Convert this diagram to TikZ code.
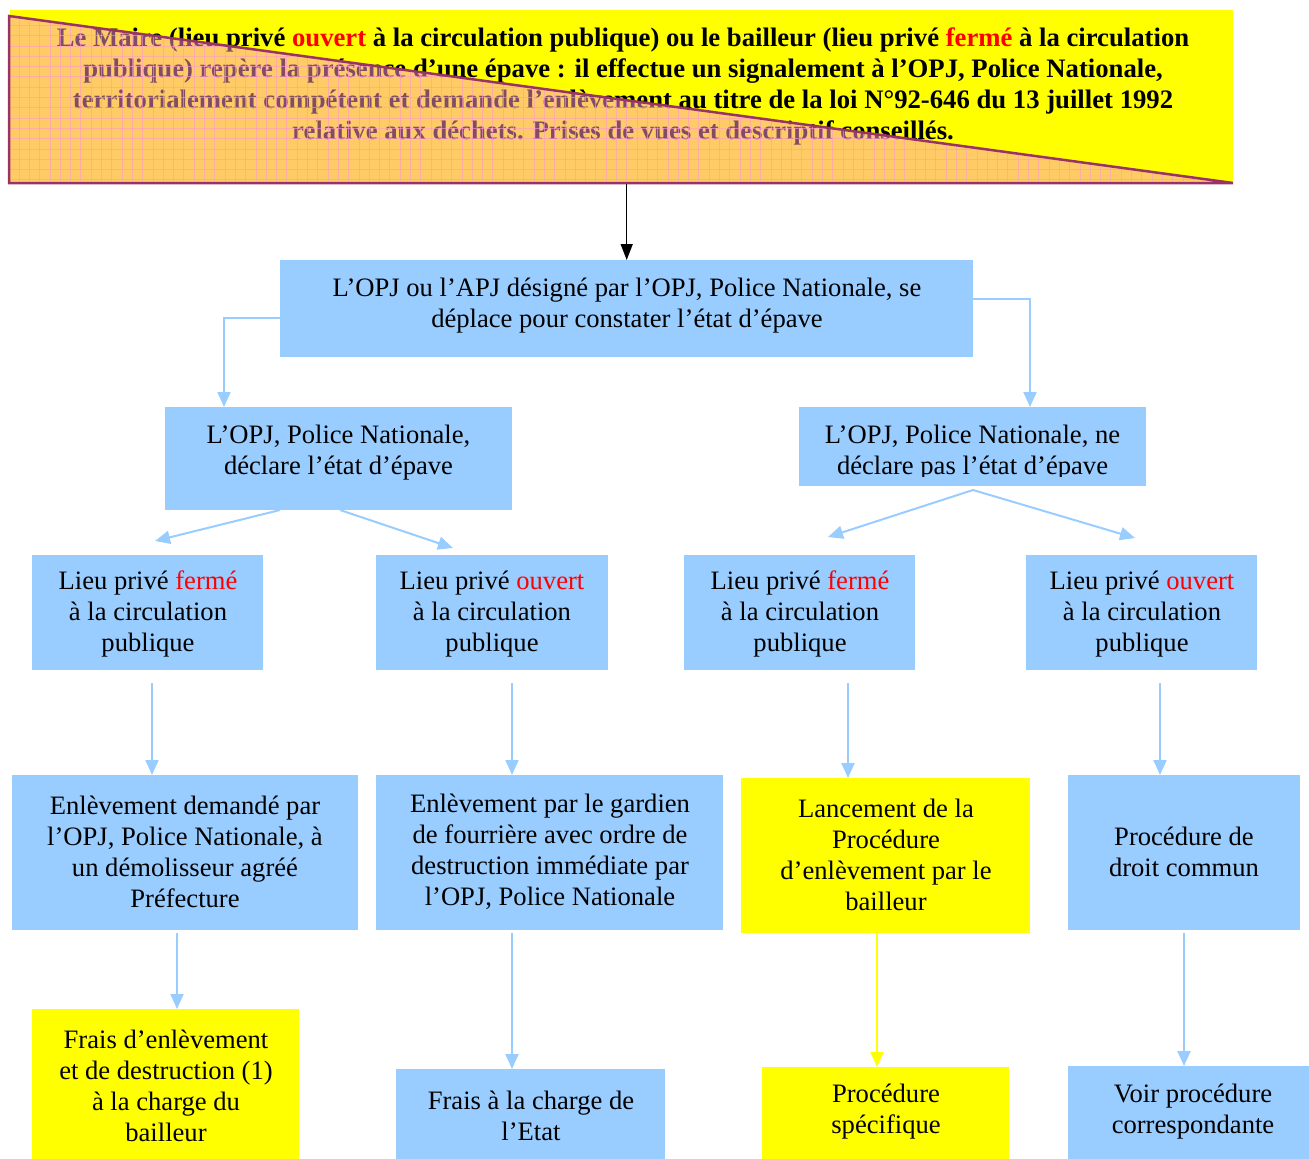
\documentclass[tikz,border=0pt]{standalone}
\usepackage{fontspec}
\setmainfont{Liberation Serif}
\usetikzlibrary{arrows.meta,calc}
\definecolor{boxblue}{HTML}{99CCFF}
\definecolor{boxyellow}{HTML}{FFFF00}
\definecolor{trifill}{HTML}{FF99CC}
\definecolor{triborder}{HTML}{993366}
\definecolor{redword}{HTML}{FF0000}
\newcommand{\rw}[1]{\textcolor{redword}{#1}}
\begin{document}
\begin{tikzpicture}[x=1pt,y=-1pt,
  bluebox/.style={fill=boxblue, inner sep=0pt, anchor=north west},
  yelbox/.style={fill=boxyellow, inner sep=0pt, anchor=north west},
  txt/.style={align=center, inner sep=0pt, yshift=-2pt, font=\fontsize{26.6}{31}\selectfont},
  headtxt/.style={align=center, inner sep=0pt, font=\bfseries\fontsize{26.7}{31}\selectfont},
  conn/.style={draw=boxblue, line width=2pt, -{Triangle[length=15pt,width=13pt]}},
  yconn/.style={draw=boxyellow, line width=2pt, -{Triangle[length=15pt,width=13pt]}},
  bconn/.style={draw=black, line width=1.5pt, -{Triangle[length=16pt,width=12pt]}}
]
\useasboundingbox (0,0) rectangle (1309,1159);

% ---------- header ----------
\node[yelbox, minimum width=1223pt, minimum height=174pt] (top) at (10,10) {};
\node[headtxt] (toptxt) at (623,86.5) {Le Maire (lieu privé \rw{ouvert} à la circulation publique) ou le bailleur (lieu privé \rw{fermé} à la circulation\\
publique) repère la présence d’une épave : il effectue un signalement à l’OPJ, Police Nationale,\\
territorialement compétent et demande l’enlèvement au titre de la loi N°92-646 du 13 juillet 1992\\
relative aux déchets. Prises de vues et descriptif conseillés.};
\fill[trifill, opacity=0.5] (9,16) -- (1233,183) -- (9,183) -- cycle;
\begin{scope}
  \clip (9,16) -- (1233,183) -- (9,183) -- cycle;
  \foreach \i in {0,...,120} \draw[trifill, opacity=0.6, line width=0.8pt] (8.7+\i*10.3,0) -- ++(0,190);
  \foreach \j in {0,...,17} \draw[trifill, opacity=0.6, line width=0.8pt] (0,15+\j*10.3) -- ++(1240,0);
\end{scope}
\draw[triborder, line width=2.5pt, line join=miter] (9,16) -- (1233,183) -- (9,183) -- cycle;

% ---------- level 1 ----------
\node[bluebox, minimum width=693pt, minimum height=97pt] (A) at (280,260) {};
\node[txt] (tA) at (627,303.5) {L’OPJ ou l’APJ désigné par l’OPJ, Police Nationale, se\\déplace pour constater l’état d’épave};

% ---------- level 2 ----------
\node[bluebox, minimum width=347pt, minimum height=103pt] (B) at (165,407) {};
\node[txt] (tB) at (338.5,450.5) {L’OPJ, Police Nationale,\\déclare l’état d’épave};
\node[bluebox, minimum width=347pt, minimum height=79pt] (C) at (799,407) {};
\begin{scope}
  \clip (799,407) rectangle (1146,476);
  \node[txt] (tC) at (972.5,450.5) {L’OPJ, Police Nationale, ne\\déclare pas l’état d’épave};
\end{scope}

% ---------- level 3 ----------
\node[bluebox, minimum width=231pt, minimum height=115pt] (D) at (32,555) {};
\node[txt] (tD) at (148,612) {Lieu privé \rw{fermé}\\à la circulation\\publique};
\node[bluebox, minimum width=232pt, minimum height=115pt] (E) at (376,555) {};
\node[txt] (tE) at (492,612) {Lieu privé \rw{ouvert}\\à la circulation\\publique};
\node[bluebox, minimum width=231pt, minimum height=115pt] (F) at (684,555) {};
\node[txt] (tF) at (800,612) {Lieu privé \rw{fermé}\\à la circulation\\publique};
\node[bluebox, minimum width=231pt, minimum height=115pt] (G) at (1026,555) {};
\node[txt] (tG) at (1142,612) {Lieu privé \rw{ouvert}\\à la circulation\\publique};

% ---------- level 4 ----------
\node[bluebox, minimum width=346pt, minimum height=155pt] (H) at (12,775) {};
\node[txt] (tH) at (185,849.5) {Enlèvement demandé par\\l’OPJ, Police Nationale, à\\un démolisseur agréé\\Préfecture};
\node[bluebox, minimum width=347pt, minimum height=155pt] (I) at (376,775) {};
\node[txt] (tI) at (550,849.5) {Enlèvement par le gardien\\de fourrière avec ordre de\\destruction immédiate par\\l’OPJ, Police Nationale};
\node[yelbox, minimum width=289pt, minimum height=155pt] (J) at (741,778) {};
\node[txt] (tJ) at (886,852.5) {Lancement de la\\Procédure\\d’enlèvement par le\\bailleur};
\node[bluebox, minimum width=232pt, minimum height=155pt] (K) at (1068,775) {};
\node[txt] (tK) at (1184,849.5) {Procédure de\\droit commun};

% ---------- level 5 ----------
\node[yelbox, minimum width=267pt, minimum height=160pt] (L) at (32,1009) {};
\node[txt] (tL) at (166,1083.5) {Frais d’enlèvement\\et de destruction (1)\\à la charge du\\bailleur};
\node[bluebox, minimum width=269pt, minimum height=100pt] (M) at (396,1069) {};
\node[txt] (tM) at (531,1113.5) {Frais à la charge de\\l’Etat};
\node[yelbox, minimum width=247pt, minimum height=100pt] (N) at (762,1067) {};
\node[txt] (tN) at (886,1109.5) {Procédure\\spécifique};
\node[bluebox, minimum width=250pt, minimum height=100pt] (O) at (1068,1066) {};
\node[txt] (tO) at (1193,1109.5) {Voir procédure\\correspondante};

% ---------- connectors ----------
\draw[bconn] (A.north |- top.south) -- (A.north);

\coordinate (a1) at (280,318);
\coordinate (a1m) at (224,318);
\coordinate (a2) at (973,299);
\coordinate (a2m) at (1030,299);
\draw[conn] (a1) -- (a1m) -- (a1m |- B.north);
\draw[conn] (a2) -- (a2m) -- (a2m |- C.north);

\coordinate (b1) at (280,510);
\coordinate (b2) at (340,510);
\coordinate (b1e) at (155,541);
\coordinate (b2e) at (453,548);
\draw[conn] (b1) -- (b1e);
\draw[conn] (b2) -- (b2e);

\coordinate (c0) at (973,490);
\coordinate (c1e) at (828,537);
\coordinate (c2e) at (1135,538);
\draw[conn] (c0) -- (c1e);
\draw[conn] (c0) -- (c2e);

\coordinate (d1) at (152,683);
\coordinate (e1) at (512,683);
\coordinate (f1) at (848,683);
\coordinate (g1) at (1160,683);
\draw[conn] (d1) -- (d1 |- H.north);
\draw[conn] (e1) -- (e1 |- I.north);
\draw[conn] (f1) -- (f1 |- J.north);
\draw[conn] (g1) -- (g1 |- K.north);

\coordinate (h1) at (177,933);
\coordinate (i1) at (512,933);
\coordinate (j1) at (877,933);
\coordinate (k1) at (1184,933);
\draw[conn] (h1) -- (h1 |- L.north);
\draw[conn] (i1) -- (i1 |- M.north);
\draw[yconn] (j1) -- (j1 |- N.north);
\draw[conn] (k1) -- (k1 |- O.north);
\end{tikzpicture}
\end{document}
